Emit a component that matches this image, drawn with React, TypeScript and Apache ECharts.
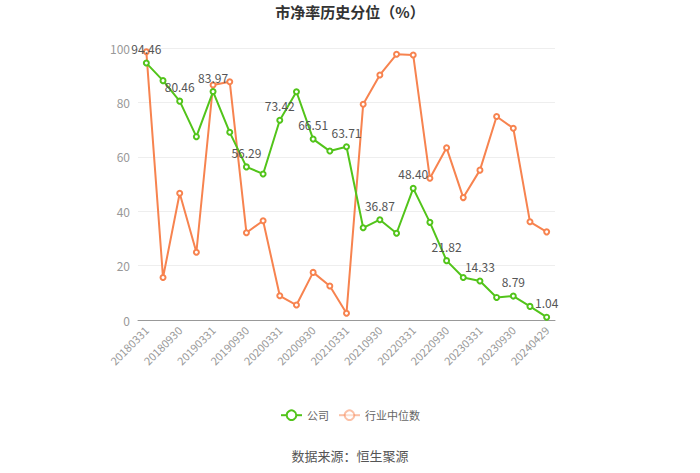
import React, { useEffect, useRef } from "react";
import * as echarts from "echarts";

const categories = [
  "20180331", "20180630", "20180930", "20181231", "20190331", "20190630", "20190930", "20191231",
  "20200331", "20200630", "20200930", "20201231", "20210331", "20210630", "20210930", "20211231",
  "20220331", "20220630", "20220930", "20221231", "20230331", "20230630", "20230930", "20231231",
  "20240429",
];
const companyValues = [
  94.46, 88.0, 80.46, 67.4, 83.97, 69.0, 56.29, 53.7, 73.42, 83.9, 66.51, 62.1, 63.71, 33.9, 36.87,
  31.9, 48.4, 35.9, 21.82, 15.6, 14.33, 8.3, 8.79, 5.0, 1.04,
];
const industryValues = [
  98.6, 15.6, 46.6, 24.9, 86.4, 87.6, 32.1, 36.5, 8.9, 5.5, 17.5, 12.5, 2.5, 79.3, 90.1, 97.7, 97.4,
  52.1, 63.3, 45.0, 55.1, 74.8, 70.5, 36.1, 32.4,
];
const yTicks = { min: 0, max: 100, interval: 20 };

const FONT = "'Noto Sans CJK SC', 'Noto Sans', sans-serif";
const GREEN = "#52C41A";
const ORANGE = "#F7834F";

export default function App() {
  const ref = useRef<HTMLDivElement>(null);
  useEffect(() => {
    document.body.style.margin = "0";
    if (!ref.current) return;
    const chart = echarts.init(ref.current, null, { renderer: "svg" });
    chart.setOption({
      animation: false,
      textStyle: { fontFamily: FONT },
      title: {
        text: "市净率历史分位（%）",
        left: "center",
        top: -1,
        textStyle: { fontSize: 15, fontWeight: "bold", color: "#333", fontFamily: FONT },
      },
      legend: {
        bottom: 47,
        left: "center",
        itemWidth: 21,
        itemHeight: 12,
        itemGap: 9,
        textStyle: { color: "#666", fontSize: 11, fontFamily: FONT },
        data: [
          { name: "公司" },
          { name: "行业中位数", itemStyle: { opacity: 0.5 }, lineStyle: { opacity: 0.5 } },
        ],
      },
      graphic: [
        {
          type: "text",
          left: "center",
          top: 449,
          style: { text: "数据来源：恒生聚源", fill: "#555", fontSize: 13, fontFamily: FONT },
        },
      ],
      grid: { left: 138, right: 145, top: 48, bottom: 153, containLabel: false, outerBoundsMode: "none" },
      xAxis: {
        type: "category",
        data: categories,
        boundaryGap: true,
        axisLine: { lineStyle: { color: "#999" } },
        axisTick: { alignWithLabel: true, interval: 1, lineStyle: { color: "#999" } },
        axisLabel: { interval: 1, rotate: 45, color: "#999", fontSize: 11, fontFamily: FONT },
      },
      yAxis: {
        type: "value",
        min: yTicks.min,
        max: yTicks.max,
        interval: yTicks.interval,
        axisLine: { show: false },
        axisTick: { show: false },
        axisLabel: { color: "#999", fontSize: 12, fontFamily: FONT },
        splitLine: { lineStyle: { color: "#eee" } },
      },
      series: [
        {
          name: "公司",
          type: "line",
          data: companyValues,
          symbol: "emptyCircle",
          symbolSize: 5,
          z: 3,
          itemStyle: { color: GREEN },
          lineStyle: { color: GREEN, width: 2 },
          label: {
            show: true,
            position: "top",
            color: "#555",
            fontSize: 12,
            fontFamily: FONT,
            formatter: (p: any) => (p.dataIndex % 2 === 0 ? p.value.toFixed(2) : ""),
          },
        },
        {
          name: "行业中位数",
          type: "line",
          data: industryValues,
          symbol: "emptyCircle",
          symbolSize: 5,
          z: 2,
          itemStyle: { color: ORANGE },
          lineStyle: { color: ORANGE, width: 2 },
        },
      ],
    });
    return () => chart.dispose();
  }, []);
  return <div ref={ref} style={{ width: 700, height: 473 }} />;
}
